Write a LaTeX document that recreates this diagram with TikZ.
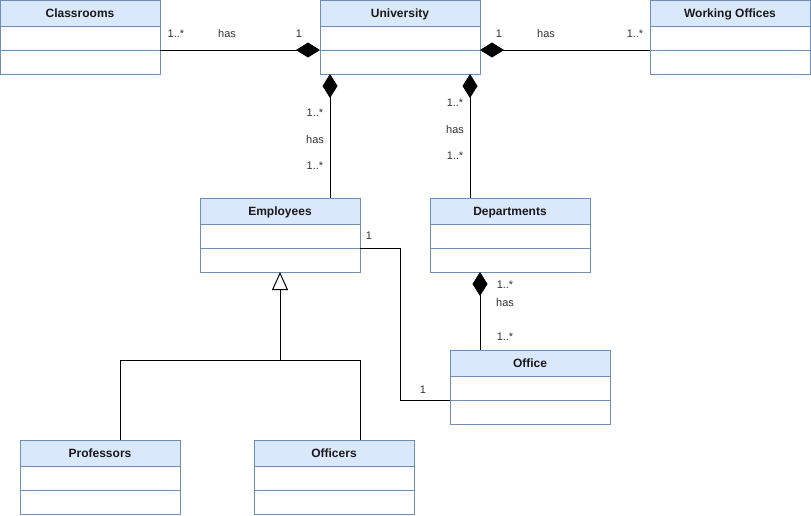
\documentclass[tikz,border=0pt]{standalone}
\usepackage{fontspec}
\setmainfont{Liberation Sans}
\usetikzlibrary{arrows.meta,positioning,calc}
\definecolor{headfill}{HTML}{DAE8FC}
\definecolor{boxline}{HTML}{6C8EBF}
\definecolor{lblgray}{HTML}{333333}
\tikzset{
  classhead/.style = {draw=boxline, fill=headfill, line width=1pt, outer sep=0pt,
    inner sep=0pt, minimum width=160pt, minimum height=26pt,
    text height=11pt, text depth=1.4pt, text=black!90,
    font=\fontsize{12}{14}\selectfont\bfseries},% class name
  classrow/.style = {draw=boxline, fill=white, line width=1pt, outer sep=0pt,
    inner sep=0pt, minimum width=160pt, minimum height=24pt},% empty compartment
  mult/.style = {text=lblgray, inner sep=0pt, font=\fontsize{11}{13}\selectfont},
  comp/.style = {{Diamond[length=24pt,width=15pt]}-, line width=1pt},
  inherit/.style = {-{Triangle[open,length=18pt,width=16pt,fill=white]}, line width=1pt}
}
\begin{document}
\begin{tikzpicture}[x=1pt,y=-1pt]
\useasboundingbox (0,0) rectangle (811,515);
\foreach \nm/\txt/\x/\y in {cls/Classrooms/80/13, uni/University/400/13,
    wo/Working Offices/730/13, emp/Employees/280/211, dep/Departments/510/211,
    off/Office/530/363, prof/Professors/100/453, offc/Officers/334/453}{
  \node[classhead] (\nm) at (\x,\y) {\txt};
  \node[classrow, below=0pt of \nm] (\nm-a) {};
  \node[classrow, below=0pt of \nm-a] (\nm-m) {};
}

% compositions
\draw[comp] (uni-a.south west) -- (cls-a.south east);
\draw[comp] (uni-a.south east) -- (wo-a.south west);
\coordinate (ue) at ($(uni-m.south west)+(10,0)$);
\draw[comp] (ue) -- (ue |- emp.north);
\coordinate (ud) at ($(uni-m.south east)+(-10,0)$);
\draw[comp] (ud) -- (ud |- dep.north);
\coordinate (do) at ($(dep-m.south west)+(50,0)$);
\draw[comp] (do) -- (do |- off.north);
\draw[line width=1pt] (emp-a.south east) -- ++(40,0) |- (off-a.south west);

% inheritance
\coordinate (split) at ($(emp-m.south)+(0,88)$);
\coordinate (pj) at ([xshift=20pt]prof.north);
\coordinate (oj) at ([xshift=26pt]offc.north);
\draw[inherit] (split) -- (emp-m.south);
\draw[line width=1pt] (pj) |- (oj |- split) -- (oj);

% multiplicities
\node[mult] (c1) at (176,34) {1..*};
\node[mult] (c2) at (227,34) {has};
\node[mult] (c3) at (299,34) {1};
\node[mult] (w1) at (499,34) {1};
\node[mult] (w2) at (546,34) {has};
\node[mult] (w3) at (635,34) {1..*};
\node[mult] (e1) at (315,113) {1..*};
\node[mult] (e2) at (315,140) {has};
\node[mult] (e3) at (315,166) {1..*};
\node[mult] (d1) at (455,103) {1..*};
\node[mult] (d2) at (455,130) {has};
\node[mult] (d3) at (455,156) {1..*};
\node[mult] (o1) at (505,285) {1..*};
\node[mult] (o2) at (505,303) {has};
\node[mult] (o3) at (505,337) {1..*};
\node[mult] (eo1) at (369,236) {1};
\node[mult] (eo2) at (423,390) {1};
\end{tikzpicture}
\end{document}
